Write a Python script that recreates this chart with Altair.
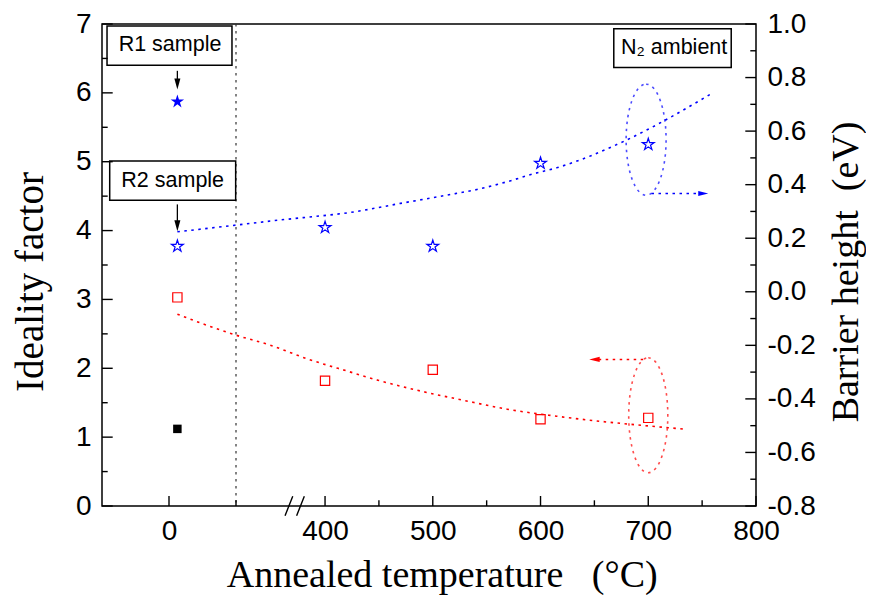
import altair as alt
import pandas as pd

# ---------------- data ----------------
temp = [25, 400, 500, 600, 700]
ideality_R2 = [3.03, 1.82, 1.98, 1.26, 1.28]
barrier_R2 = [0.17, 0.24, 0.17, 0.48, 0.55]
temp_R1 = [25]
ideality_R1 = [1.12]
barrier_R1 = [0.71]

fit_b_x = [25, 200, 317, 380, 423, 470, 513, 541, 569, 593, 615, 680, 719, 759]
fit_b_y = [0.224, 0.249, 0.268, 0.277, 0.296, 0.330, 0.361, 0.382, 0.411, 0.440, 0.463, 0.567, 0.648, 0.741]
fit_n_x = [25, 112, 200, 291, 383, 423, 449, 488, 528, 569, 615, 735]
fit_n_y = [2.786, 2.626, 2.481, 2.336, 2.14, 1.948, 1.827, 1.672, 1.537, 1.406, 1.304, 1.115]

x_major = [0, 400, 500, 600, 700, 800]
x_minor = [200, 450, 550, 650, 750]
yl_major = [0, 1, 2, 3, 4, 5, 6, 7]
yl_minor = [0.5, 1.5, 2.5, 3.5, 4.5, 5.5, 6.5]
yr_major = [-0.8, -0.6, -0.4, -0.2, 0.0, 0.2, 0.4, 0.6, 0.8, 1.0]
yr_minor = [-0.7, -0.5, -0.3, -0.1, 0.1, 0.3, 0.5, 0.7, 0.9]
separator = [200]
break_pos = [356.5]

box_label = ["R1 sample", "R2 sample", "N\u2082 ambient"]
box_x1 = [-185, -177, 668]
box_x2 = [188, 199, 777]
box_y1 = [6.40, 4.44, 6.37]
box_y2 = [6.97, 5.01, 6.93]
box_tx = [3, 11, 724]
box_ty = [6.69, 4.725, 6.65]

arrow_x = [25, 25]
arrow_top = [6.32, 4.38]
arrow_base = [6.19, 4.14]
arrow_tip = [6.05, 3.99]

blue_arrow_x = [703, 748]
blue_arrow_y = [0.367, 0.367]
blue_tip_x = [755.7]
red_arrow_x = [697, 654]
red_arrow_y = [2.128, 2.128]
red_tip_x = [645.2]

ell_blue = {"x": [698], "b": [0.568]}
ell_red = {"x": [700], "n": [1.318]}

NB = "\u00a0"
x_title = "Annealed temperature" + NB * 3 + "(\u00b0C)"
yl_title = "Ideality factor"
yr_title = "Barrier height" + NB * 2 + "(eV)"

# ---------------- styling / scales ----------------
W, H = 654, 482
BLUE, RED = "#0000ff", "#ff0000"
SANS, SERIF = "Liberation Sans", "Liberation Serif"

STAR = ("M 0 -1 L 0.2245 -0.309 L 0.9511 -0.309 L 0.3633 0.118 L 0.5878 0.809 L 0 0.382 "
        "L -0.5878 0.809 L -0.3633 0.118 L -0.9511 -0.309 L -0.2245 -0.309 Z")

xscale = alt.Scale(domain=[-200, 200, 380, 800], range=[0, 134, 201.5, 654], nice=False, zero=False)
ylscale = alt.Scale(domain=[0, 7], nice=False, zero=False)
yrscale = alt.Scale(domain=[-0.8, 1.0], nice=False, zero=False)

x_axis = alt.Axis(values=x_major, format="d", orient="bottom", ticks=False, tickSize=0, domain=False,
                  grid=False, labelFont=SANS, labelFontSize=28, labelColor="black", labelPadding=11,
                  labelFlush=False, labelOverlap=False,
                  title=x_title, titleFont=SERIF, titleFontSize=38,
                  titleFontWeight="normal", titleColor="black", titleX=339.7, titleY=80,
                  titleAlign="center", titleBaseline="alphabetic")
yl_axis = alt.Axis(values=yl_major, format="d", orient="left", ticks=False, tickSize=0, domain=False,
                   grid=False, labelFont=SANS, labelFontSize=28, labelColor="black", labelPadding=11,
                   labelFlush=False, labelOverlap=False,
                   title=yl_title, titleFont=SERIF, titleFontSize=39, titleFontWeight="normal",
                   titleColor="black", titleAngle=270, titleX=-72, titleY=257.5, titleAlign="center",
                   titleBaseline="middle")
yr_axis = alt.Axis(values=yr_major, orient="right", ticks=False, tickSize=0, domain=False, grid=False,
                   labelExpr="datum.value < 0 ? '-' + format(-datum.value, '.1f') : format(datum.value, '.1f')",
                   labelFont=SANS, labelFontSize=28, labelColor="black", labelPadding=11,
                   labelFlush=False, labelOverlap=False,
                   title=yr_title, titleFont=SERIF, titleFontSize=38, titleFontWeight="normal",
                   titleColor="black", titleAngle=270, titleX=90, titleY=247.5, titleAlign="center",
                   titleBaseline="middle")


def X(f):
    return alt.X(f"{f}:Q", scale=xscale, axis=x_axis)


def YL(f, axis=None):
    return alt.Y(f"{f}:Q", scale=ylscale, axis=axis)


def YR(f, axis=None):
    return alt.Y(f"{f}:Q", scale=yrscale, axis=axis)


def ellipse_path(a):
    k = 0.5523
    return (f"M 0 -1 C {k*a:.4f} -1 {a:.4f} {-k:.4f} {a:.4f} 0 "
            f"C {a:.4f} {k:.4f} {k*a:.4f} 1 0 1 "
            f"C {-k*a:.4f} 1 {-a:.4f} {k:.4f} {-a:.4f} 0 "
            f"C {-a:.4f} {-k:.4f} {-k*a:.4f} -1 0 -1 Z")


DOT = [2.5, 4.5]

df_pts = pd.DataFrame({"t": temp, "n": ideality_R2, "b": barrier_R2})
df_r1 = pd.DataFrame({"t": temp_R1, "n": ideality_R1, "b": barrier_R1})
df_fb = pd.DataFrame({"x": fit_b_x, "b": fit_b_y})
df_fn = pd.DataFrame({"x": fit_n_x, "n": fit_n_y})

layers = []

# axes-carrying layers first (red squares: left axis, stars: right axis)
layers.append(alt.Chart(df_pts).mark_point(shape="square", filled=False, color=RED, size=86,
                                           strokeWidth=1.2, opacity=1).encode(
    x=X("t"), y=YL("n", yl_axis)))
layers.append(alt.Chart(df_pts).mark_point(shape=STAR, filled=False, color=BLUE, size=155,
                                           strokeWidth=1.2, opacity=1).encode(
    x=X("t"), y=YR("b", yr_axis)))

# separator dotted line
layers.append(alt.Chart(pd.DataFrame({"x": separator})).mark_rule(
    color="#333333", strokeDash=[2.5, 4.5], strokeWidth=1.2).encode(x=X("x")))

# fit lines
layers.append(alt.Chart(df_fb).mark_line(color=BLUE, strokeDash=DOT, strokeWidth=1.6,
                                         interpolate="monotone").encode(x=X("x"), y=YR("b")))
layers.append(alt.Chart(df_fn).mark_line(color=RED, strokeDash=DOT, strokeWidth=1.6,
                                         interpolate="monotone").encode(x=X("x"), y=YL("n")))

# ellipses
layers.append(alt.Chart(pd.DataFrame(ell_blue)).mark_point(
    shape=ellipse_path(0.36), size=12321, filled=False, color=BLUE, strokeWidth=1.6,
    strokeDash=DOT).encode(x=X("x"), y=YR("b")))
layers.append(alt.Chart(pd.DataFrame(ell_red)).mark_point(
    shape=ellipse_path(0.34), size=13225, filled=False, color=RED, strokeWidth=1.6,
    strokeDash=DOT).encode(x=X("x"), y=YL("n")))

# dotted arrows
layers.append(alt.Chart(pd.DataFrame({"x": blue_arrow_x, "b": blue_arrow_y})).mark_line(
    color=BLUE, strokeDash=DOT, strokeWidth=1.6).encode(x=X("x"), y=YR("b")))
layers.append(alt.Chart(pd.DataFrame({"x": blue_tip_x, "b": blue_arrow_y[:1]})).mark_point(
    shape="M 0 0 L -2 -0.5 L -2 0.5 Z", size=100, filled=True, color=BLUE, opacity=1).encode(
    x=X("x"), y=YR("b")))
layers.append(alt.Chart(pd.DataFrame({"x": red_arrow_x, "n": red_arrow_y})).mark_line(
    color=RED, strokeDash=DOT, strokeWidth=1.6).encode(x=X("x"), y=YL("n")))
layers.append(alt.Chart(pd.DataFrame({"x": red_tip_x, "n": red_arrow_y[:1]})).mark_point(
    shape="M 0 0 L 2 -0.5 L 2 0.5 Z", size=110, filled=True, color=RED, opacity=1).encode(
    x=X("x"), y=YL("n")))

# black arrows from boxes
df_arr = pd.DataFrame({"x": arrow_x, "top": arrow_top, "base": arrow_base, "tip": arrow_tip})
layers.append(alt.Chart(df_arr).mark_rule(color="black", strokeWidth=1.3).encode(
    x=X("x"), y=YL("top"), y2="base:Q"))
layers.append(alt.Chart(df_arr).mark_point(
    shape="M 0 0 L -0.55 -2 L 0.55 -2 Z", size=121, filled=True, color="black", opacity=1).encode(
    x=X("x"), y=YL("tip")))

# R1 markers
layers.append(alt.Chart(df_r1).mark_point(shape=STAR, filled=True, color=BLUE, size=200,
                                          opacity=1).encode(x=X("t"), y=YR("b")))
layers.append(alt.Chart(df_r1).mark_point(shape="square", filled=True, color="black", size=72,
                                          opacity=1).encode(x=X("t"), y=YL("n")))

# boxes + text
df_box = pd.DataFrame({"label": box_label, "x1": box_x1, "x2": box_x2, "y1": box_y1, "y2": box_y2,
                       "tx": box_tx, "ty": box_ty})
layers.append(alt.Chart(df_box).mark_rect(fill="white", stroke="black", strokeWidth=1.5).encode(
    x=X("x1"), x2="x2:Q", y=YL("y1"), y2="y2:Q"))
layers.append(alt.Chart(df_box).mark_text(font=SANS, fontSize=21.5, align="center", baseline="middle",
                                          color="black").encode(
    x=X("tx"), y=YL("ty"), text="label:N"))

# axis break marks
layers.append(alt.Chart(pd.DataFrame({"x": break_pos, "n": [0]})).mark_point(
    shape="M -1 1 L -0.2 -1 M 0.2 1 L 1 -1", size=372, filled=False, color="black",
    strokeWidth=1.4, opacity=1).encode(x=X("x"), y=YL("n")))

# inward ticks
layers.append(alt.Chart(pd.DataFrame({"v": yl_major})).mark_rule(color="black", strokeWidth=1.4).encode(
    y=YL("v"), x=alt.value(0), x2=alt.value(10.7)))
layers.append(alt.Chart(pd.DataFrame({"v": yl_minor})).mark_rule(color="black", strokeWidth=1.4).encode(
    y=YL("v"), x=alt.value(0), x2=alt.value(5.7)))
layers.append(alt.Chart(pd.DataFrame({"v": yr_major})).mark_rule(color="black", strokeWidth=1.4).encode(
    y=YR("v"), x=alt.value(W), x2=alt.value(W - 10.7)))
layers.append(alt.Chart(pd.DataFrame({"v": yr_minor})).mark_rule(color="black", strokeWidth=1.4).encode(
    y=YR("v"), x=alt.value(W), x2=alt.value(W - 5.7)))
layers.append(alt.Chart(pd.DataFrame({"v": x_major})).mark_rule(color="black", strokeWidth=1.4).encode(
    x=X("v"), y=alt.value(H), y2=alt.value(H - 10)))
layers.append(alt.Chart(pd.DataFrame({"v": x_minor})).mark_rule(color="black", strokeWidth=1.4).encode(
    x=X("v"), y=alt.value(H), y2=alt.value(H - 5.7)))

chart = alt.layer(*layers).resolve_scale(y="independent").properties(
    width=W, height=H,
    autosize=alt.AutoSizeParams(type="none"),
    padding={"left": 94, "top": 16, "right": 110, "bottom": 89},
    background="white",
).configure_view(stroke="black", strokeWidth=1.5)

chart.save("out.html", embed_options={"renderer": "svg", "actions": False})
